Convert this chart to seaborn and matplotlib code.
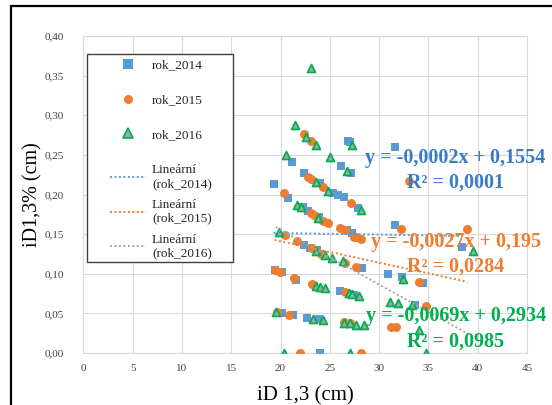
import numpy as np
import pandas as pd
import matplotlib
matplotlib.use("Agg")
import matplotlib.pyplot as plt
import seaborn as sns
from matplotlib.lines import Line2D
from matplotlib.patches import Rectangle
from matplotlib.ticker import FuncFormatter

# ---------------- data ----------------
series_names = ["rok_2014", "rok_2015", "rok_2016"]

x_2014 = [19.3, 21.2, 22.4, 24.0, 26.1, 27.15, 26.8, 27.05, 31.6,
          20.8, 25.35, 25.86, 26.4, 27.9,
          22.3, 22.8, 23.9, 26.7, 27.2, 31.6, 38.4,
          22.4, 23.0, 23.7, 28.3, 30.9, 32.3, 34.5,
          19.4, 20.1, 21.6, 26.0, 26.9, 27.4, 33.6,
          20.1, 21.3, 22.65, 23.9,
          24.0]
y_2014 = [0.213, 0.241, 0.2267, 0.214, 0.236, 0.2267, 0.2675, 0.266, 0.26,
          0.195, 0.2023, 0.1993, 0.1965, 0.1826,
          0.184, 0.179, 0.171, 0.155, 0.151, 0.1615, 0.1334,
          0.136, 0.133, 0.130, 0.1077, 0.0993, 0.0963, 0.0887,
          0.105, 0.102, 0.092, 0.078, 0.075, 0.073, 0.0606,
          0.050, 0.048, 0.0446, 0.043,
          0.0]

x_2015 = [22.37, 23.1, 22.8, 23.1, 24.3, 33.06, 20.3, 27.15,
          23.1, 23.4, 24.3, 24.85, 26.0, 26.5, 27.4, 27.65, 28.2, 32.2, 38.95,
          20.45, 21.7, 23.2, 24.1, 26.5, 27.7,
          19.4, 19.95, 21.4, 23.2, 26.5, 34.0, 34.75,
          19.6, 20.9, 26.4, 27.05, 31.2, 31.7,
          22.0, 28.2]
y_2015 = [0.276, 0.2675, 0.2225, 0.219, 0.21, 0.217, 0.2023, 0.189,
          0.1765, 0.174, 0.167, 0.1636, 0.1573, 0.155, 0.147, 0.146, 0.1435, 0.157, 0.1565,
          0.149, 0.1417, 0.132, 0.125, 0.113, 0.109,
          0.1047, 0.1026, 0.095, 0.0867, 0.077, 0.090, 0.0593,
          0.052, 0.048, 0.0385, 0.038, 0.0324, 0.0324,
          0.0, 0.0]

x_2016 = [23.1, 21.45, 22.6, 23.57, 27.2, 20.6, 25.0, 26.7, 23.57, 24.8, 21.7, 22.1, 23.77, 28.2,
          19.85, 23.6, 24.5, 25.25, 26.3, 32.4, 39.5,
          23.6, 24.0, 24.5, 26.9, 27.2, 28.0, 31.1, 31.9, 33.3,
          19.5, 23.3, 24.3, 26.4, 27.0, 27.7, 28.5, 34.0,
          20.4, 27.0, 34.75]
y_2016 = [0.359, 0.2877, 0.273, 0.2625, 0.263, 0.25, 0.247, 0.230, 0.216, 0.205, 0.1867, 0.184, 0.170, 0.180,
          0.153, 0.1287, 0.1237, 0.1203, 0.116, 0.0934, 0.129,
          0.085, 0.083, 0.0824, 0.0755, 0.0745, 0.0723, 0.064, 0.0627, 0.0606,
          0.052, 0.043, 0.0416, 0.0375, 0.0375, 0.0353, 0.0353, 0.029,
          0.0, 0.0, 0.0]

trend_slopes = [-0.0002, -0.0027, -0.0069]
trend_intercepts = [0.1554, 0.195, 0.2934]
trend_r2 = [0.0001, 0.0284, 0.0985]

x_ticks = [0, 5, 10, 15, 20, 25, 30, 35, 40, 45]
y_ticks = [0.0, 0.05, 0.10, 0.15, 0.20, 0.25, 0.30, 0.35, 0.40]

# ---------------- styling ----------------
FONT = "Liberation Serif"
sns.set_style("white")
plt.rcParams["font.family"] = [FONT, "DejaVu Serif"]

marker_face = ["#5B9BD5", "#ED7D31", "#A5A5A5"]
marker_edge = ["#5B9BD5", "#ED7D31", "#00B050"]
markers = ["s", "o", "^"]
sizes = [34, 42, 32]
trend_colors = ["#5B9BD5", "#ED7D31", "#A5A5A5"]
eq_colors = ["#3A7BC8", "#ED7D31", "#00B050"]

fig = plt.figure(figsize=(5.52, 4.05), dpi=100)
ax = fig.add_axes([83.4 / 552, 1 - 353 / 405, (527 - 83.4) / 552, (353 - 36) / 405])

df = pd.DataFrame({
    "x": x_2014 + x_2015 + x_2016,
    "y": y_2014 + y_2015 + y_2016,
    "series": ([series_names[0]] * len(x_2014) + [series_names[1]] * len(x_2015)
               + [series_names[2]] * len(x_2016)),
})

for i, name in enumerate(series_names):
    sub = df[df["series"] == name]
    sns.scatterplot(data=sub, x="x", y="y", ax=ax, marker=markers[i], s=sizes[i],
                    color=marker_face[i], edgecolor=marker_edge[i],
                    linewidth=1.3 if i == 2 else 0.0, zorder=3 + i, legend=False)

for i, name in enumerate(series_names):
    sub = df[df["series"] == name]
    xs = np.array([sub["x"].min(), sub["x"].max()])
    ys = trend_slopes[i] * xs + trend_intercepts[i]
    ax.plot(xs, ys, color=trend_colors[i], lw=1.4, ls=(0, (1, 1.3)), zorder=7)

ax.set_xlim(0, 45)
ax.set_ylim(0, 0.40)
ax.set_xticks(x_ticks)
ax.set_yticks(y_ticks)
ax.xaxis.set_major_formatter(FuncFormatter(lambda v, p: f"{v:g}"))
ax.yaxis.set_major_formatter(FuncFormatter(lambda v, p: f"{v:.2f}".replace(".", ",")))
ax.tick_params(axis="both", length=0, labelsize=8, labelcolor="#404040")
ax.tick_params(axis="y", pad=14)
ax.tick_params(axis="x", pad=8)
ax.grid(True, color="#D9D9D9", lw=0.8)
ax.set_axisbelow(True)
for s in ax.spines.values():
    s.set_color("#D9D9D9")
    s.set_linewidth(0.8)

ax.set_xlabel("iD 1,3 (cm)", fontsize=15, color="#000000")
ax.set_ylabel("iD1,3% (cm)", fontsize=14.5, color="#000000")
ax.xaxis.set_label_coords(0.5, -0.105)
ax.yaxis.set_label_coords(-0.092, 0.5)

# equations
eq_y = [(0.615, 0.536), (0.350, 0.271), (0.117, 0.035)]
def fmt(v, spec):
    return format(v, spec).replace(".", ",")
for i in range(3):
    eq = f"y = {fmt(trend_slopes[i], 'g')}x + {fmt(trend_intercepts[i], 'g')}"
    r2 = f"R² = {fmt(trend_r2[i], '.4f')}"
    ax.text(0.839, eq_y[i][0], eq, transform=ax.transAxes, ha="center", va="center",
            fontsize=14.5, fontweight="bold", color=eq_colors[i], zorder=10, clip_on=False)
    ax.text(0.839, eq_y[i][1], r2, transform=ax.transAxes, ha="center", va="center",
            fontsize=14.5, fontweight="bold", color=eq_colors[i], zorder=10, clip_on=False)

# legend entries
marker_handles = [Line2D([], [], ls="none", marker=markers[i], markersize=6.5,
                         markerfacecolor=marker_face[i], markeredgecolor=marker_edge[i],
                         markeredgewidth=1.2 if i == 2 else 0) for i in range(3)]
marker_labels = list(series_names)
line_handles = [Line2D([], [], color=trend_colors[i], lw=1.4, ls=(0, (1, 1.3)))
                for i in range(3)]
line_labels = [f"Lineární\n({name})" for name in series_names]

# legend frame box (Excel-style)
lx0 = (87 - 83.4) / 443.6
lx1 = (233 - 83.4) / 443.6
ly0 = (353 - 262) / 317
ly1 = (353 - 54) / 317
ax.add_patch(Rectangle((lx0, ly0), lx1 - lx0, ly1 - ly0, transform=ax.transAxes,
                       facecolor="white", edgecolor="#404040", lw=1.0, zorder=19,
                       clip_on=False))

hx = (110 - 83.4) / 443.6
leg1 = ax.legend(marker_handles, marker_labels, loc="upper left",
                 bbox_to_anchor=(hx, (353 - 59) / 317),
                 fontsize=9.5, frameon=False, handlelength=2.73, handletextpad=0.45,
                 labelspacing=1.72, borderpad=0, borderaxespad=0)
leg1.set_zorder(20)
ax.add_artist(leg1)
leg2 = ax.legend(line_handles, line_labels, loc="upper left",
                 bbox_to_anchor=(hx, (353 - 164) / 317),
                 fontsize=9.5, frameon=False, handlelength=2.73, handletextpad=0.45,
                 labelspacing=0.68, borderpad=0, borderaxespad=0)
leg2.set_zorder(20)

# outer frame
fig.add_artist(Rectangle((11 / 552, -0.2), 1.5, 1.2 - 6 / 405, transform=fig.transFigure,
                         fill=False, edgecolor="black", lw=1.6, clip_on=False))

fig.savefig("out.png", dpi=100)
